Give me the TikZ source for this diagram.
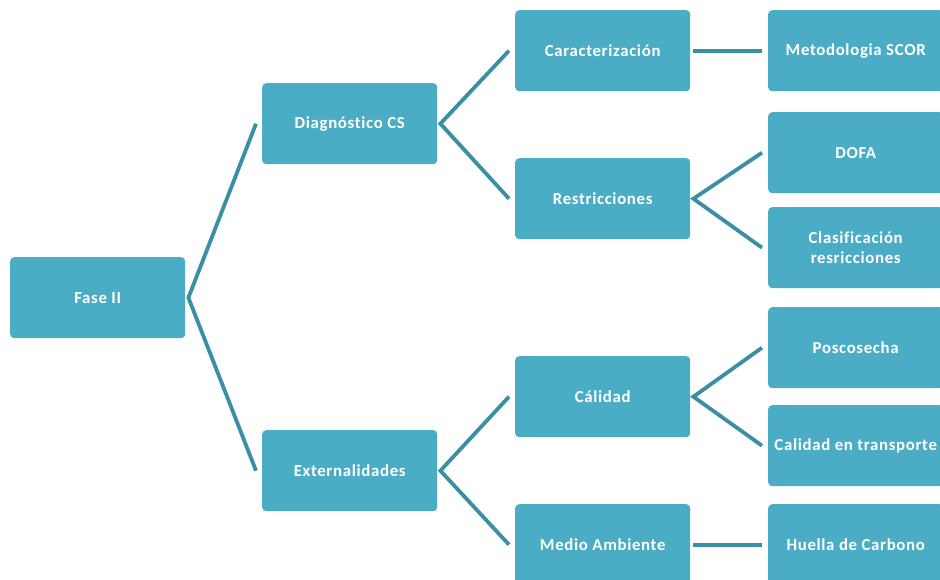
\documentclass[tikz,border=0pt]{standalone}
\usepackage{fontspec}
\setmainfont{Carlito}[LetterSpace=4,Ligatures=NoCommon]
\definecolor{boxfill}{HTML}{4BACC6}
\definecolor{linkcol}{HTML}{3A8FA5}
\begin{document}
\begin{tikzpicture}[x=1pt,y=-1pt,
  box/.style={anchor=north west, fill=boxfill, rounded corners=4pt,
    minimum width=175pt, minimum height=81pt, inner sep=2pt,
    text=white, align=center, font=\fontsize{16.8}{20}\selectfont\bfseries},
  link/.style={draw=linkcol, line width=3.8pt}]
\clip (0,0) rectangle (940,580);
\fill[white] (0,0) rectangle (940,580);

% level 0
\node[box] (fase) at (10,257) {Fase II};
% level 1
\node[box] (diag) at (262,83) {Diagnóstico CS};
\node[box] (ext)  at (262,430) {Externalidades};
% level 2
\node[box] (car)  at (515,10)  {Caracterización};
\node[box] (res)  at (515,158) {Restricciones};
\node[box] (cal)  at (515,356) {Cálidad};
\node[box] (med)  at (515,504) {Medio Ambiente};
% level 3
\node[box] (scor) at (768,10)  {Metodologia SCOR};
\node[box] (dofa) at (768,112) {DOFA};
\node[box] (clas) at (768,207) {Clasificación\\resricciones};
\node[box] (pos)  at (768,307) {Poscosecha};
\node[box] (trans) at (768,405) {Calidad en transporte};
\node[box] (hue)  at (768,504) {Huella de Carbono};

% connectors
\draw[link] ([xshift=-6pt]diag.west) -- ([xshift=3pt]fase.east) -- ([xshift=-6pt]ext.west);
\draw[link] ([xshift=-6pt]car.west) -- ([xshift=3pt]diag.east) -- ([xshift=-6pt]res.west);
\draw[link] ([xshift=-6pt]cal.west) -- ([xshift=3pt]ext.east) -- ([xshift=-6pt]med.west);
\draw[link] ([xshift=3pt]car.east) -- ([xshift=-6pt]scor.west);
\draw[link] ([xshift=-6pt]dofa.west) -- ([xshift=3pt]res.east) -- ([xshift=-6pt]clas.west);
\draw[link] ([xshift=-6pt]pos.west) -- ([xshift=3pt]cal.east) -- ([xshift=-6pt]trans.west);
\draw[link] ([xshift=3pt]med.east) -- ([xshift=-6pt]hue.west);
\end{tikzpicture}
\end{document}
